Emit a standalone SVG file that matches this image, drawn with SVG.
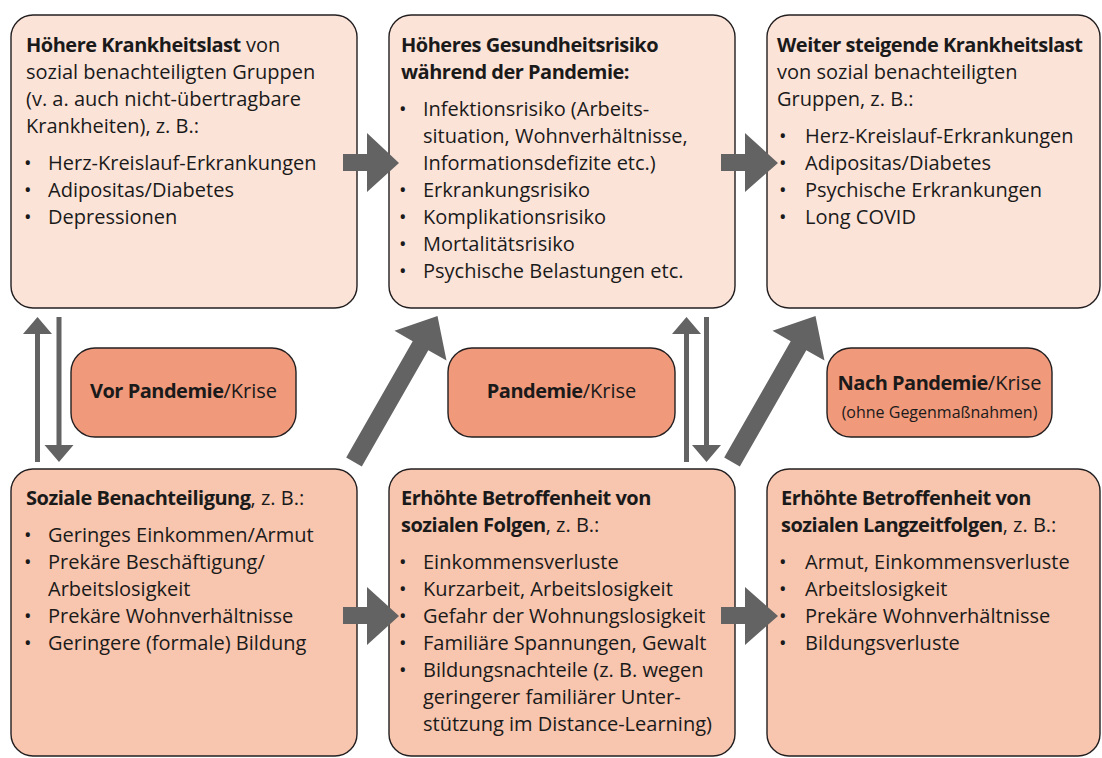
<svg xmlns="http://www.w3.org/2000/svg" width="1102" height="758" viewBox="0 0 1102 758">
<style>
.box{stroke:#231f20;stroke-width:1.4}
.top{fill:#fce3d8}
.bot{fill:#f8c5ae}
.lab{fill:#f0997b}
text{font-family:'Open Sans','Noto Sans',sans-serif;font-size:20px;fill:#1a1a1a}
.b{font-weight:700;letter-spacing:-0.5px}
.sm{font-size:16px}
.arr{fill:#636363}
</style>
<rect width="1102" height="758" fill="#ffffff"/>
<g id="n1">
<rect class="box top" x="11" y="15" width="346" height="293" rx="22"/>
<text x="26" y="52"><tspan class="b">Höhere Krankheitslast</tspan> von</text>
<text x="26" y="79">sozial benachteiligten Gruppen</text>
<text x="26" y="106">(v. a. auch nicht-übertragbare</text>
<text x="26" y="133">Krankheiten), z. B.:</text>
<text y="170"><tspan x="24">•</tspan><tspan x="48">Herz-Kreislauf-Erkrankungen</tspan></text>
<text y="197"><tspan x="24">•</tspan><tspan x="48">Adipositas/Diabetes</tspan></text>
<text y="224"><tspan x="24">•</tspan><tspan x="48">Depressionen</tspan></text>
</g>
<g id="n2">
<rect class="box top" x="389" y="15" width="346" height="293" rx="22"/>
<text x="401" y="52" class="b">Höheres Gesundheitsrisiko</text>
<text x="401" y="79" class="b">während der Pandemie:</text>
<text y="116"><tspan x="399">•</tspan><tspan x="423">Infektionsrisiko (Arbeits-</tspan></text>
<text x="423" y="143">situation, Wohnverhältnisse,</text>
<text x="423" y="170">Informationsdefizite etc.)</text>
<text y="197"><tspan x="399">•</tspan><tspan x="423">Erkrankungsrisiko</tspan></text>
<text y="224"><tspan x="399">•</tspan><tspan x="423">Komplikationsrisiko</tspan></text>
<text y="251"><tspan x="399">•</tspan><tspan x="423">Mortalitätsrisiko</tspan></text>
<text y="278"><tspan x="399">•</tspan><tspan x="423">Psychische Belastungen etc.</tspan></text>
</g>
<g id="n3">
<rect class="box top" x="767" y="15" width="333" height="293" rx="22"/>
<text x="777" y="52" class="b">Weiter steigende Krankheitslast</text>
<text x="777" y="79">von sozial benachteiligten</text>
<text x="777" y="106">Gruppen, z. B.:</text>
<text y="143"><tspan x="779">•</tspan><tspan x="805">Herz-Kreislauf-Erkrankungen</tspan></text>
<text y="170"><tspan x="779">•</tspan><tspan x="805">Adipositas/Diabetes</tspan></text>
<text y="197"><tspan x="779">•</tspan><tspan x="805">Psychische Erkrankungen</tspan></text>
<text y="224"><tspan x="779">•</tspan><tspan x="805">Long COVID</tspan></text>
</g>
<g id="n4">
<rect class="box bot" x="11" y="469" width="346" height="287" rx="22"/>
<text x="26" y="505"><tspan class="b">Soziale Benachteiligung</tspan>, z. B.:</text>
<text y="542"><tspan x="24">•</tspan><tspan x="48">Geringes Einkommen/Armut</tspan></text>
<text y="569"><tspan x="24">•</tspan><tspan x="48">Prekäre Beschäftigung/</tspan></text>
<text x="48" y="596">Arbeitslosigkeit</text>
<text y="623"><tspan x="24">•</tspan><tspan x="48">Prekäre Wohnverhältnisse</tspan></text>
<text y="650"><tspan x="24">•</tspan><tspan x="48">Geringere (formale) Bildung</tspan></text>
</g>
<g id="n5">
<rect class="box bot" x="389" y="469" width="346" height="287" rx="22"/>
<text x="401" y="505" class="b">Erhöhte Betroffenheit von</text>
<text x="401" y="532"><tspan class="b">sozialen Folgen</tspan>, z. B.:</text>
<text y="569"><tspan x="399">•</tspan><tspan x="423">Einkommensverluste</tspan></text>
<text y="596"><tspan x="399">•</tspan><tspan x="423">Kurzarbeit, Arbeitslosigkeit</tspan></text>
<text y="623"><tspan x="399">•</tspan><tspan x="423">Gefahr der Wohnungslosigkeit</tspan></text>
<text y="650"><tspan x="399">•</tspan><tspan x="423">Familiäre Spannungen, Gewalt</tspan></text>
<text y="677"><tspan x="399">•</tspan><tspan x="423">Bildungsnachteile (z. B. wegen</tspan></text>
<text x="423" y="704">geringerer familiärer Unter-</text>
<text x="423" y="731">stützung im Distance-Learning)</text>
</g>
<g id="n6">
<rect class="box bot" x="767" y="469" width="333" height="287" rx="22"/>
<text x="781" y="505" class="b">Erhöhte Betroffenheit von</text>
<text x="781" y="532"><tspan class="b">sozialen Langzeitfolgen</tspan>, z. B.:</text>
<text y="569"><tspan x="779">•</tspan><tspan x="805">Armut, Einkommensverluste</tspan></text>
<text y="596"><tspan x="779">•</tspan><tspan x="805">Arbeitslosigkeit</tspan></text>
<text y="623"><tspan x="779">•</tspan><tspan x="805">Prekäre Wohnverhältnisse</tspan></text>
<text y="650"><tspan x="779">•</tspan><tspan x="805">Bildungsverluste</tspan></text>
</g>
<g id="l1">
<rect class="box lab" x="71" y="348" width="225" height="89" rx="24"/>
<text x="183.5" y="398" text-anchor="middle"><tspan class="b">Vor Pandemie</tspan>/Krise</text>
</g>
<g id="l2">
<rect class="box lab" x="448" y="348" width="227" height="89" rx="24"/>
<text x="561.5" y="398" text-anchor="middle"><tspan class="b">Pandemie</tspan>/Krise</text>
</g>
<g id="l3">
<rect class="box lab" x="827" y="348" width="225" height="89" rx="24"/>
<text x="939.5" y="390" text-anchor="middle"><tspan class="b">Nach Pandemie</tspan>/Krise</text>
<text x="939.5" y="418" text-anchor="middle" class="sm">(ohne Gegenmaßnahmen)</text>
</g>
<g id="connectors" class="arr">
<polygon points="343,154 367,154 367,133 399,163 367,192 367,171 343,171"/>
<polygon points="721,154 745,154 745,133 778,163 745,192 745,171 721,171"/>
<polygon points="343,607 367,607 367,587 399,616 367,645 367,624 343,624"/>
<polygon points="721,607 745,607 745,587 778,616 745,645 745,624 721,624"/>
<polygon points="35,462 35,334 23,334 37.5,317 52,334 40,334 40,462"/>
<polygon points="56.5,317 61.5,317 61.5,445 73.5,445 59,462 44.5,445 56.5,445"/>
<polygon points="684,462 684,334 672,334 686.5,317 701,334 689,334 689,462"/>
<polygon points="704,317 709,317 709,445 721,445 706.5,462 692,445 704,445"/>
<polygon points="346.2,457.5 412.7,341.2 394.5,330.8 437.5,316 446.5,360.6 428.3,350.2 361.8,466.5"/>
<polygon points="724.2,457.5 790.7,341.2 772.5,330.8 815.5,316 824.5,360.6 806.3,350.2 739.8,466.5"/>
</g>
</svg>
